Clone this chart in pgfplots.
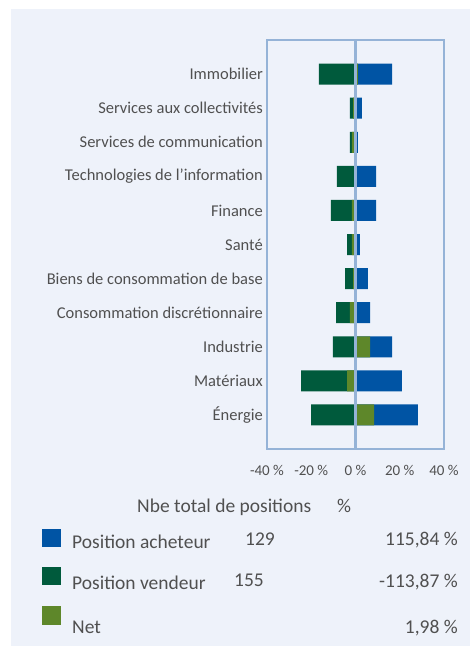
\documentclass[border=0pt]{standalone}
\usepackage{pgfplots}
\pgfplotsset{compat=1.18}
\usepackage{fontspec}
\setmainfont{Carlito}
\definecolor{bg}{RGB}{238,242,250}
\definecolor{frame}{RGB}{149,179,215}
\definecolor{cblue}{RGB}{0,84,164}
\definecolor{cdgreen}{RGB}{0,90,60}
\definecolor{clgreen}{RGB}{94,135,42}
\definecolor{txt}{RGB}{80,80,80}
\begin{document}
\begin{tikzpicture}[x=1bp,y=1bp]
\fill[white] (0,0) rectangle (470,-646);
\fill[bg] (11,-9) rectangle (470,-646);
\begin{axis}[
  at={(267bp,-40bp)}, anchor=north west,
  scale only axis, width=177bp, height=409bp,
  xmin=-40, xmax=40, ymin=0, ymax=12, y dir=reverse,
  ytick={1,...,11},
  yticklabels={Immobilier,Services aux collectivités,Services de communication,Technologies de l'information,Finance,Santé,Biens de consommation de base,Consommation discrétionnaire,Industrie,Matériaux,Énergie},
  xtick={-40,-20,0,20,40},
  xticklabels={-40 \%,-20 \%,0 \%,20 \%,40 \%},
  major tick length=0pt,
  axis line style={draw=frame, line width=1.5bp},
  yticklabel style={font=\fontsize{16.5bp}{19bp}\selectfont, text=txt, anchor=east, inner sep=0pt, xshift=-4bp},
  xticklabel style={font=\fontsize{15bp}{17bp}\selectfont, text=txt, anchor=center, inner sep=0pt, yshift=-21bp},
  xbar, bar shift=0pt, bar width=21bp,
]
\addplot[fill=cdgreen, draw=none] coordinates {
(-16.5,1) (-2.5,2) (-2.5,3) (-8.4,4) (-11.1,5) (-3.8,6) (-4.7,7) (-8.8,8) (-10.2,9) (-24.6,10) (-20.1,11)};
\addplot[fill=cblue, draw=none] coordinates {
(16.5,1) (2.9,2) (1.1,3) (9.3,4) (9.3,5) (2.0,6) (5.6,7) (6.6,8) (16.5,9) (21.0,10) (28.2,11)};
\addplot[fill=clgreen, draw=none] coordinates {
(1.1,1) (-1.1,2) (-1.6,3) (0.5,4) (-1.6,5) (-1.6,6) (-1.1,7) (-2.5,8) (6.6,9) (-3.8,10) (8.4,11)};
\addplot[sharp plot, draw=frame, line width=3bp, mark=none] coordinates {(0,0) (0,12)};
\end{axis}
\begin{scope}[every node/.style={inner sep=0pt, text=txt, font=\fontsize{19.5bp}{22bp}\selectfont}]
\node[anchor=base west] at (137,-512.5) {Nbe total de positions};
\node[anchor=base west] at (337,-512.5) {\%};
\fill[cblue] (42,-529) rectangle (61,-547);
\fill[cdgreen] (42,-567) rectangle (61,-585);
\fill[clgreen] (42,-606) rectangle (61,-625);
\node[anchor=base west] at (72,-548) {Position acheteur};
\node[anchor=base west] at (72,-589) {Position vendeur};
\node[anchor=base west] at (72,-633) {Net};
\node[anchor=base west] at (245,-545) {129};
\node[anchor=base west] at (234,-586) {155};
\node[anchor=base east] at (458,-545) {115,84 \%};
\node[anchor=base east] at (458,-587) {-113,87 \%};
\node[anchor=base east] at (458,-633) {1,98 \%};
\end{scope}
\end{tikzpicture}
\end{document}
